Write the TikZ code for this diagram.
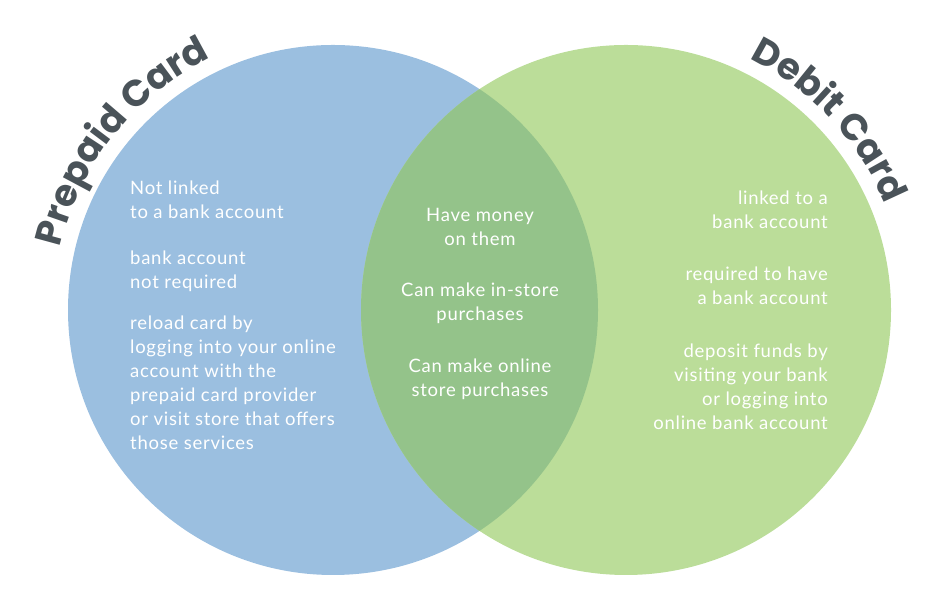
\documentclass[tikz,border=0pt]{standalone}
\usepackage{fontspec}
\setmainfont{Lato}[LetterSpace=4]
\newfontfamily\titlefont{Poppins}
\usetikzlibrary{decorations.text}
\definecolor{blueC}{HTML}{9BBFE0}
\definecolor{greenC}{HTML}{BBDD99}
\definecolor{bothC}{HTML}{94C38A}
\definecolor{titleC}{HTML}{4A5359}
\tikzset{
  txt/.style={inner sep=0pt, text=white, font=\fontsize{18.5}{24}\selectfont},
  ttl/.style={decorate, decoration={text along path, text align=center,
     text={|\titlefont\bfseries\fontsize{37}{37}\selectfont\color{titleC}|#1}}}
}
\begin{document}
\begin{tikzpicture}[x=1pt,y=1pt]
\useasboundingbox (0,0) rectangle (947,601);
\fill[blueC] (333,291) circle (265);
\fill[greenC] (626,291) circle (265);
\begin{scope}
\clip (333,291) circle (265);
\fill[bothC] (626,291) circle (265);
\end{scope}
\path[ttl={Prepaid Card}] (333,291) ++(175:280) arc (175:108:280);
\path[ttl={Debit Card}] (626,291) ++(72:280) arc (72:14:280);
\node[txt, anchor=north west, align=left] (l1) at (130,420) {Not linked\\to a bank account};
\node[txt, anchor=north west, align=left] (l2) at (130,350) {bank account\\not required};
\node[txt, anchor=north west, align=left] (l3) at (130,285) {reload card by\\logging into your online\\account with the\\prepaid card provider\\or visit store that offers\\those services};
\node[txt, anchor=north, align=center] (c1) at (480,393) {Have money\\on them};
\node[txt, anchor=north, align=center] (c2) at (480,318) {Can make in-store\\purchases};
\node[txt, anchor=north, align=center] (c3) at (480,242) {Can make online\\store purchases};
\node[txt, anchor=north east, align=right] (r1) at (828,410) {linked to a\\bank account};
\node[txt, anchor=north east, align=right] (r2) at (828,334) {required to have\\a bank account};
\node[txt, anchor=north east, align=right] (r3) at (828,257) {deposit funds by\\visiting your bank\\or logging into\\online bank account};
\end{tikzpicture}
\end{document}
